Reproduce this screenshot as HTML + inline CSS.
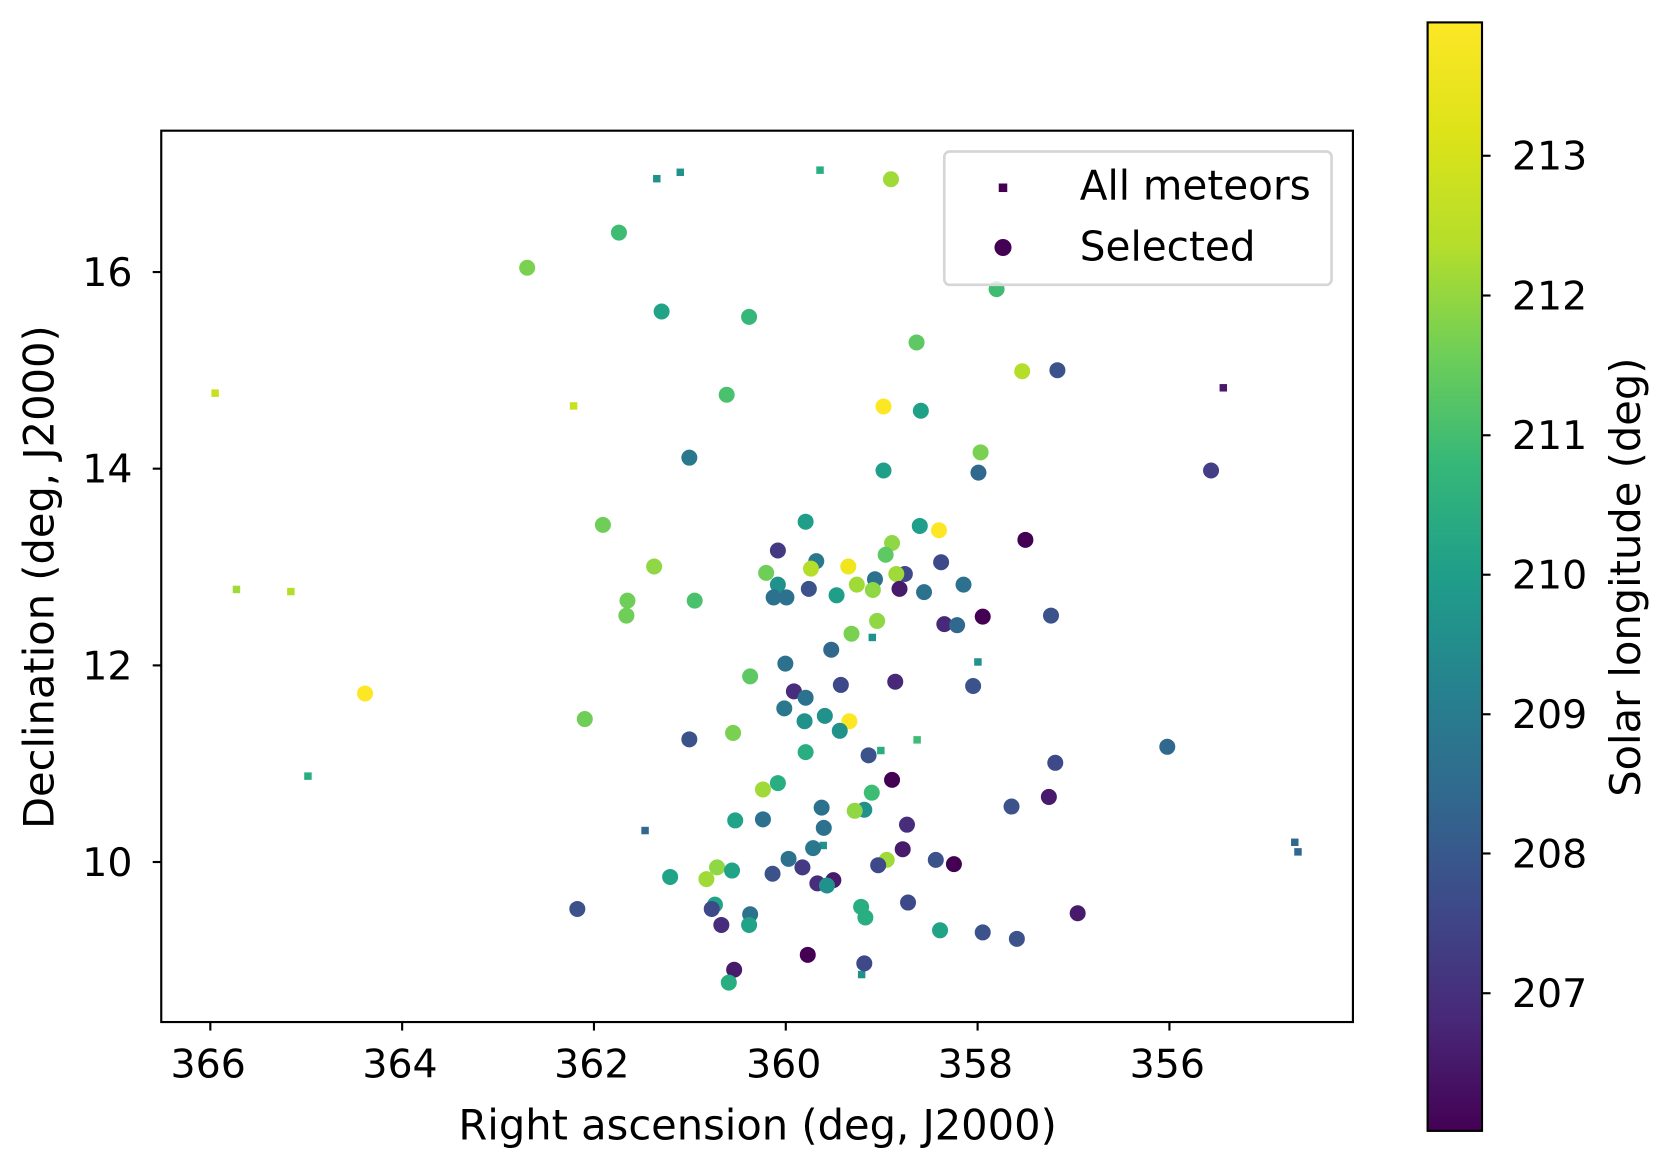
<!DOCTYPE html>
<html><head><meta charset="utf-8"><style>html,body{margin:0;padding:0;background:#fff;}svg{display:block}</style></head>
<body>
<svg width="1671" height="1165" viewBox="0 0 1566 1092" xmlns="http://www.w3.org/2000/svg" font-family="DejaVu Sans, Liberation Sans, sans-serif">
<defs>
<linearGradient id="vir" x1="0" y1="1" x2="0" y2="0">
<stop offset="0" stop-color="#440154"/><stop offset="0.1" stop-color="#482878"/><stop offset="0.2" stop-color="#3e4989"/><stop offset="0.3" stop-color="#31688e"/><stop offset="0.4" stop-color="#26828e"/><stop offset="0.5" stop-color="#1f9e89"/><stop offset="0.6" stop-color="#35b779"/><stop offset="0.7" stop-color="#6ece58"/><stop offset="0.8" stop-color="#b5de2b"/><stop offset="0.9" stop-color="#dde318"/><stop offset="1" stop-color="#fde725"/>
</linearGradient>
</defs>
<rect x="0" y="0" width="1566" height="1092" fill="#fff"/>
<g id="sq">
<rect x="612" y="164" width="7" height="7" fill="#21918c"/>
<rect x="634" y="158" width="7" height="7" fill="#21918c"/>
<rect x="765" y="156" width="7" height="7" fill="#28ae80"/>
<rect x="198" y="365" width="7" height="7" fill="#c8e020"/>
<rect x="534" y="377" width="7" height="7" fill="#c8e020"/>
<rect x="1143" y="360" width="7" height="7" fill="#481a6c"/>
<rect x="218" y="549" width="7" height="7" fill="#a0da39"/>
<rect x="269" y="551" width="7" height="7" fill="#b5de2b"/>
<rect x="285" y="724" width="7" height="7" fill="#28ae80"/>
<rect x="601" y="775" width="7" height="7" fill="#31688e"/>
<rect x="814" y="594" width="7" height="7" fill="#21918c"/>
<rect x="913" y="617" width="7" height="7" fill="#21918c"/>
<rect x="822" y="700" width="7" height="7" fill="#28ae80"/>
<rect x="856" y="690" width="7" height="7" fill="#3fbc73"/>
<rect x="768" y="789" width="7" height="7" fill="#21918c"/>
<rect x="804" y="910" width="7" height="7" fill="#21918c"/>
<rect x="1210" y="786" width="7" height="7" fill="#31688e"/>
<rect x="1213" y="795" width="7" height="7" fill="#31688e"/>
</g>
<g id="pts">
<circle cx="835" cy="168" r="7.5" fill="#a0da39"/><circle cx="580" cy="218" r="7.5" fill="#3fbc73"/><circle cx="494" cy="251" r="7.5" fill="#7ad151"/><circle cx="934" cy="271" r="7.5" fill="#3fbc73"/><circle cx="620" cy="292" r="7.5" fill="#20a386"/><circle cx="702" cy="297" r="7.5" fill="#35b779"/><circle cx="859" cy="321" r="7.5" fill="#5ec962"/><circle cx="958" cy="348" r="7.5" fill="#b5de2b"/><circle cx="991" cy="347" r="7.5" fill="#3b528b"/><circle cx="681" cy="370" r="7.5" fill="#4ac16d"/><circle cx="828" cy="381" r="7.5" fill="#fde725"/><circle cx="863" cy="385" r="7.5" fill="#1fa187"/><circle cx="919" cy="424" r="7.5" fill="#7ad151"/><circle cx="646" cy="429" r="7.5" fill="#2a788e"/><circle cx="828" cy="441" r="7.5" fill="#1f9e89"/><circle cx="917" cy="443" r="7.5" fill="#31688e"/><circle cx="1135" cy="441" r="7.5" fill="#433e85"/><circle cx="565" cy="492" r="7.5" fill="#6ece58"/><circle cx="755" cy="489" r="7.5" fill="#1f9e89"/><circle cx="862" cy="493" r="7.5" fill="#1f9e89"/><circle cx="880" cy="497" r="7.5" fill="#fde725"/><circle cx="961" cy="506" r="7.5" fill="#440154"/><circle cx="729" cy="516" r="7.5" fill="#443983"/><circle cx="613" cy="531" r="7.5" fill="#8fd744"/><circle cx="765" cy="526" r="7.5" fill="#2a788e"/><circle cx="836" cy="509" r="7.5" fill="#8fd744"/><circle cx="830" cy="520" r="7.5" fill="#5ec962"/><circle cx="848" cy="538" r="7.5" fill="#3e4989"/><circle cx="882" cy="527" r="7.5" fill="#3e4989"/><circle cx="795" cy="531" r="7.5" fill="#f1e51d"/><circle cx="760" cy="533" r="7.5" fill="#b5de2b"/><circle cx="718" cy="537" r="7.5" fill="#6ece58"/><circle cx="729" cy="548" r="7.5" fill="#21918c"/><circle cx="820" cy="543" r="7.5" fill="#2c728e"/><circle cx="840" cy="538" r="7.5" fill="#a0da39"/><circle cx="803" cy="548" r="7.5" fill="#a0da39"/><circle cx="818" cy="553" r="7.5" fill="#8fd744"/><circle cx="758" cy="552" r="7.5" fill="#3b528b"/><circle cx="725" cy="560" r="7.5" fill="#2c728e"/><circle cx="737" cy="560" r="7.5" fill="#2c728e"/><circle cx="784" cy="558" r="7.5" fill="#1f9e89"/><circle cx="843" cy="552" r="7.5" fill="#481a6c"/><circle cx="866" cy="555" r="7.5" fill="#2c728e"/><circle cx="903" cy="548" r="7.5" fill="#2c728e"/><circle cx="588" cy="563" r="7.5" fill="#6ece58"/><circle cx="651" cy="563" r="7.5" fill="#4ac16d"/><circle cx="587" cy="577" r="7.5" fill="#6ece58"/><circle cx="822" cy="582" r="7.5" fill="#8fd744"/><circle cx="885" cy="585" r="7.5" fill="#482878"/><circle cx="897" cy="586" r="7.5" fill="#31688e"/><circle cx="921" cy="578" r="7.5" fill="#440154"/><circle cx="985" cy="577" r="7.5" fill="#3b528b"/><circle cx="798" cy="594" r="7.5" fill="#7ad151"/><circle cx="779" cy="609" r="7.5" fill="#31688e"/><circle cx="736" cy="622" r="7.5" fill="#2c728e"/><circle cx="703" cy="634" r="7.5" fill="#5ec962"/><circle cx="788" cy="642" r="7.5" fill="#3e4989"/><circle cx="839" cy="639" r="7.5" fill="#482878"/><circle cx="912" cy="643" r="7.5" fill="#3b528b"/><circle cx="744" cy="648" r="7.5" fill="#472d7b"/><circle cx="755" cy="654" r="7.5" fill="#2c728e"/><circle cx="342" cy="650" r="7.5" fill="#fde725"/><circle cx="735" cy="664" r="7.5" fill="#2a788e"/><circle cx="773" cy="671" r="7.5" fill="#21918c"/><circle cx="754" cy="676" r="7.5" fill="#21918c"/><circle cx="796" cy="676" r="7.5" fill="#fde725"/><circle cx="548" cy="674" r="7.5" fill="#6ece58"/><circle cx="787" cy="685" r="7.5" fill="#21918c"/><circle cx="687" cy="687" r="7.5" fill="#7ad151"/><circle cx="646" cy="693" r="7.5" fill="#3b528b"/><circle cx="1094" cy="700" r="7.5" fill="#31688e"/><circle cx="755" cy="705" r="7.5" fill="#28ae80"/><circle cx="814" cy="708" r="7.5" fill="#3b528b"/><circle cx="989" cy="715" r="7.5" fill="#3e4989"/><circle cx="836" cy="731" r="7.5" fill="#440154"/><circle cx="729" cy="734" r="7.5" fill="#28ae80"/><circle cx="715" cy="740" r="7.5" fill="#a0da39"/><circle cx="983" cy="747" r="7.5" fill="#481a6c"/><circle cx="817" cy="743" r="7.5" fill="#3fbc73"/><circle cx="770" cy="757" r="7.5" fill="#2c728e"/><circle cx="810" cy="759" r="7.5" fill="#21918c"/><circle cx="801" cy="760" r="7.5" fill="#8fd744"/><circle cx="948" cy="756" r="7.5" fill="#3b528b"/><circle cx="689" cy="769" r="7.5" fill="#20a386"/><circle cx="715" cy="768" r="7.5" fill="#2c728e"/><circle cx="772" cy="776" r="7.5" fill="#2c728e"/><circle cx="850" cy="773" r="7.5" fill="#472d7b"/><circle cx="762" cy="795" r="7.5" fill="#2a788e"/><circle cx="846" cy="796" r="7.5" fill="#481a6c"/><circle cx="739" cy="805" r="7.5" fill="#2c728e"/><circle cx="831" cy="806" r="7.5" fill="#a0da39"/><circle cx="877" cy="806" r="7.5" fill="#3b528b"/><circle cx="894" cy="810" r="7.5" fill="#440154"/><circle cx="752" cy="813" r="7.5" fill="#443983"/><circle cx="724" cy="819" r="7.5" fill="#3b528b"/><circle cx="823" cy="811" r="7.5" fill="#3e4989"/><circle cx="628" cy="822" r="7.5" fill="#20a386"/><circle cx="672" cy="813" r="7.5" fill="#8fd744"/><circle cx="686" cy="816" r="7.5" fill="#20a386"/><circle cx="662" cy="824" r="7.5" fill="#a0da39"/><circle cx="766" cy="828" r="7.5" fill="#472d7b"/><circle cx="781" cy="825" r="7.5" fill="#481a6c"/><circle cx="775" cy="830" r="7.5" fill="#21918c"/><circle cx="541" cy="852" r="7.5" fill="#3b528b"/><circle cx="670" cy="848" r="7.5" fill="#20a386"/><circle cx="667" cy="852" r="7.5" fill="#3e4989"/><circle cx="703" cy="857" r="7.5" fill="#2c728e"/><circle cx="807" cy="850" r="7.5" fill="#28ae80"/><circle cx="851" cy="846" r="7.5" fill="#3e4989"/><circle cx="1010" cy="856" r="7.5" fill="#481a6c"/><circle cx="676" cy="867" r="7.5" fill="#472d7b"/><circle cx="702" cy="867" r="7.5" fill="#20a386"/><circle cx="811" cy="860" r="7.5" fill="#28ae80"/><circle cx="881" cy="872" r="7.5" fill="#20a386"/><circle cx="921" cy="874" r="7.5" fill="#3b528b"/><circle cx="953" cy="880" r="7.5" fill="#3b528b"/><circle cx="757" cy="895" r="7.5" fill="#440154"/><circle cx="810" cy="903" r="7.5" fill="#3e4989"/><circle cx="688" cy="909" r="7.5" fill="#481a6c"/><circle cx="683" cy="921" r="7.5" fill="#28ae80"/>
</g>
<rect x="151" y="122.5" width="1117" height="835.5" fill="none" stroke="#000" stroke-width="2"/>
<g stroke="#000" stroke-width="2">
<line x1="197" y1="958" x2="197" y2="966"/><line x1="376.8" y1="958" x2="376.8" y2="966"/><line x1="556.6" y1="958" x2="556.6" y2="966"/><line x1="736.4" y1="958" x2="736.4" y2="966"/><line x1="916.2" y1="958" x2="916.2" y2="966"/><line x1="1096" y1="958" x2="1096" y2="966"/>
<line x1="143" y1="255" x2="151" y2="255"/><line x1="143" y1="439.3" x2="151" y2="439.3"/><line x1="143" y1="623.7" x2="151" y2="623.7"/><line x1="143" y1="808" x2="151" y2="808"/>
</g>
<g font-size="37" fill="#000" text-anchor="middle">
<text x="195" y="1010">366</text><text x="374.8" y="1010">364</text><text x="554.6" y="1010">362</text><text x="734.4" y="1010">360</text><text x="914.2" y="1010">358</text><text x="1094" y="1010">356</text>
</g>
<g font-size="37" fill="#000" text-anchor="end">
<text x="124" y="268">16</text><text x="124" y="452.3">14</text><text x="124" y="636.7">12</text><text x="124" y="821">10</text>
</g>
<text x="710" y="1068" font-size="39" text-anchor="middle">Right ascension (deg, J2000)</text>
<text transform="translate(50,541) rotate(-90)" font-size="39" text-anchor="middle">Declination (deg, J2000)</text>
<rect x="885" y="142" width="363" height="125" rx="5" fill="#fff" fill-opacity="0.8" stroke="#d6d6d6" stroke-width="2.5"/>
<rect x="936" y="172" width="8" height="8" fill="#440154"/>
<circle cx="940" cy="232" r="8" fill="#440154"/>
<text x="1012" y="187" font-size="38">All meteors</text>
<text x="1012" y="244" font-size="38">Selected</text>
<rect x="1338" y="21" width="51" height="1039" fill="url(#vir)" stroke="#000" stroke-width="2"/>
<g stroke="#000" stroke-width="2">
<line x1="1389" y1="146" x2="1397" y2="146"/><line x1="1389" y1="277" x2="1397" y2="277"/><line x1="1389" y1="408" x2="1397" y2="408"/><line x1="1389" y1="538.7" x2="1397" y2="538.7"/><line x1="1389" y1="669.5" x2="1397" y2="669.5"/><line x1="1389" y1="800" x2="1397" y2="800"/><line x1="1389" y1="931" x2="1397" y2="931"/>
</g>
<g font-size="37" fill="#000">
<text x="1417" y="159">213</text><text x="1417" y="290">212</text><text x="1417" y="421">211</text><text x="1417" y="551.7">210</text><text x="1417" y="682.5">209</text><text x="1417" y="813">208</text><text x="1417" y="944">207</text>
</g>
<text transform="translate(1537,541) rotate(-90)" font-size="39" text-anchor="middle">Solar longitude (deg)</text>
</svg>
</body></html>
